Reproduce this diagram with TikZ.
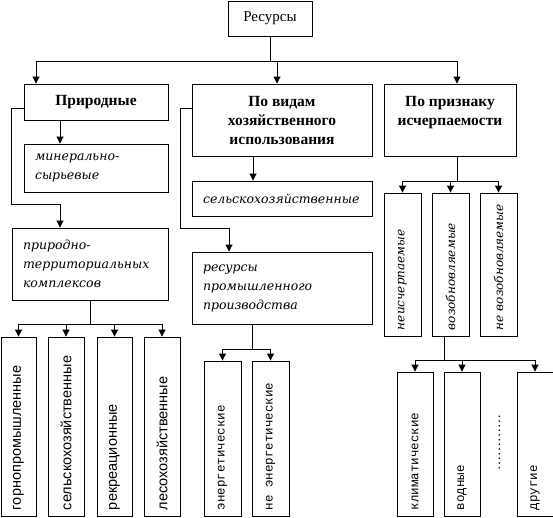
\documentclass[tikz,border=0pt]{standalone}
\usepackage{graphicx}
\usepackage{fontspec}
\setmainfont{Liberation Serif}
\setsansfont{Liberation Sans}
\setmonofont{Liberation Mono}
\newfontfamily\itfont{DejaVu Serif}
\usetikzlibrary{arrows.meta}
\usetikzlibrary{calc}
\newcommand\vtext[2]{\rotatebox{90}{\makebox[#1][l]{#2}}}

\begin{document}
\begin{tikzpicture}[x=1pt,y=-1pt,line width=0.9pt,>={Triangle[width=7pt,length=7pt]}]
  \tikzstyle{box}=[draw=black, fill=white, inner sep=0pt, align=center]
  \tikzstyle{head}=[box, font=\fontsize{15.5}{19}\selectfont\bfseries]
  \tikzstyle{itbox}=[box, align=left, font=\itfont\itshape\fontsize{12.5}{19}\selectfont]
  \tikzstyle{sansv}=[box, font=\sffamily\fontsize{14.5}{16}\selectfont]
  \tikzstyle{monov}=[box, font=\ttfamily\fontsize{12.5}{15}\selectfont]
  \tikzstyle{itv}=[box, font=\itfont\itshape\fontsize{12}{15}\selectfont]
  \useasboundingbox (0,0) rectangle (553,517);

  \node[box, minimum width=84pt, minimum height=35pt, font=\fontsize{15}{19}\selectfont] (R) at (270,18.5) {Ресурсы};
  \node[head, minimum width=144pt, minimum height=36pt] (P) at (96,102) {Природные};
  \node[head, minimum width=180pt, minimum height=72pt] (V) at (282,120) {По видам\\хозяйственного\\использования};
  \node[head, minimum width=132pt, minimum height=72pt] (I) at (450,120) {По признаку\\исчерпаемости\\~};

  \node[itbox, minimum width=144pt, minimum height=48pt, text width=122pt] (M) at (96,168) {минерально-\\сырьевые};
  \node[itbox, minimum width=156pt, minimum height=72pt, text width=134pt] (T) at (90,264) {природно-\\территориальных\\комплексов};
  \node[itbox, minimum width=180pt, minimum height=35pt, text width=158pt] (S) at (282,198.5) {сельскохозяйственные};
  \node[itbox, minimum width=180pt, minimum height=72pt, text width=158pt] (Q) at (282,288) {ресурсы\\промышленного\\производства};

  \node[sansv, minimum width=35pt, minimum height=179pt] (G1) at (18.5,426.5) {\vtext{167pt}{горнопромышленные}};
  \node[sansv, minimum width=36pt, minimum height=179pt] (G2) at (66,426.5) {\vtext{167pt}{сельскохозяйственные}};
  \node[sansv, minimum width=35pt, minimum height=179pt] (G3) at (114.5,426.5) {\vtext{167pt}{рекреационные}};
  \node[sansv, minimum width=36pt, minimum height=179pt] (G4) at (162,426.5) {\vtext{167pt}{лесохозяйственные}};

  \node[monov, minimum width=37pt, minimum height=155pt] (E1) at (222.5,438.5) {\vtext{143pt}{энергетические}};
  \node[monov, minimum width=37pt, minimum height=155pt] (E2) at (270.5,438.5) {\vtext{143pt}{не энергетические}};

  \node[itv, minimum width=37pt, minimum height=143pt] (N1) at (402.5,264.5) {\vtext{131pt}{неисчерпаемые}};
  \node[itv, minimum width=37pt, minimum height=143pt] (N2) at (450.5,264.5) {\vtext{131pt}{возобновляемые}};
  \node[itv, minimum width=37pt, minimum height=143pt] (N3) at (498.5,264.5) {\vtext{131pt}{не возобновляемые}};

  \node[monov, minimum width=36pt, minimum height=144pt] (K1) at (415,444) {\vtext{132pt}{климатические}};
  \node[monov, minimum width=36pt, minimum height=144pt] (K2) at (462,444) {\vtext{132pt}{водные}};
  \node[monov, minimum width=36pt, minimum height=144pt] (K3) at (535,444) {\vtext{132pt}{другие}};
  \node[font=\fontsize{14}{16}\selectfont, inner sep=0pt] (D) at (499.5,442.5) {\rotatebox{90}{…………}};

  \draw (R.south) -- ++(0,25) coordinate (j0);
  \draw[->] (j0) -| ([xshift=-60pt]P.north);
  \draw[->] (j0) -| ([xshift=-5pt]V.north);
  \draw[->] (j0) -| ([xshift=7pt]I.north);

  \draw[->] ([xshift=-36pt]P.south) -- ([xshift=-36pt]M.north);
  \draw[->] ([yshift=-6pt]P.west) -| ++(-12,96) -| ([xshift=-30pt]T.north);
  \draw (T.south) -- ++(0,24) coordinate (j1);
  \foreach \n in {G1,G2,G3,G4}
    \draw[->] (j1) -| (\n.north);

  \draw[->] ([xshift=-29pt]V.south) -- ([xshift=-29pt]S.north);
  \draw[->] ([yshift=12pt]V.west) -| ++(-11,120) -| ([xshift=-53pt]Q.north);
  \draw ([xshift=-30pt]Q.south) -- ++(0,25) coordinate (j4);
  \foreach \n in {E1,E2}
    \draw[->] (j4) -| (\n.north);

  \draw ([xshift=7pt]I.south) -- ++(0,25) coordinate (j2);
  \foreach \n in {N1,N2,N3}
    \draw[->] (j2) -| (\n.north);
  \draw ([xshift=-6pt]N2.south) -- ++(0,24) coordinate (j3);
  \foreach \n in {K1,K2,K3}
    \draw[->] (j3) -| (\n.north);
\end{tikzpicture}
\end{document}
